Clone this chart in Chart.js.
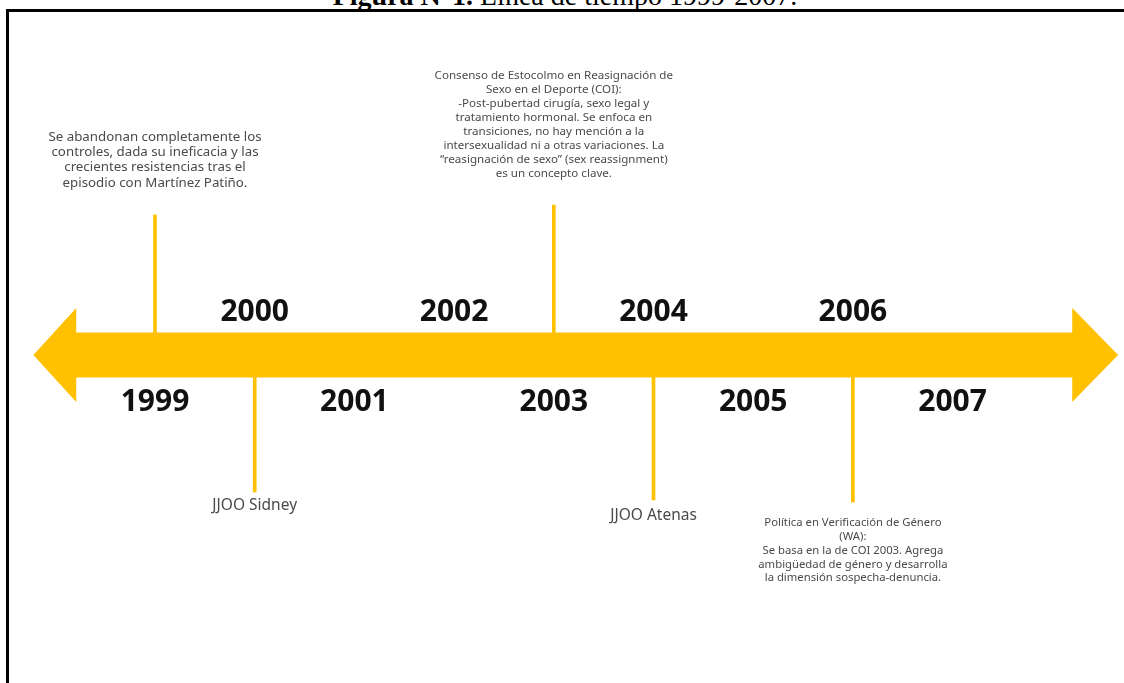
<!DOCTYPE html>
<html>
<head>
<meta charset="utf-8">
<script src="https://cdn.jsdelivr.net/npm/chart.js@4/dist/chart.umd.min.js"></script>
<style>
  html, body { margin: 0; padding: 0; background: #fff; overflow: hidden; }
  body { width: 1124px; height: 683px; position: relative; }
  #title {
    position: absolute; left: 0; top: -20px; width: 1130px; text-align: center;
    font-family: "Liberation Serif", "Times New Roman", serif; font-size: 28px; color: #000;
    white-space: nowrap;
  }
  #frame {
    position: absolute; left: 6px; top: 9px; width: 1200px; height: 800px;
    border-top: 3px solid #000; border-left: 3px solid #000;
  }
  #timeline { position: absolute; left: 0; top: 0; }
</style>
</head>
<body>
<div id="title"><b>Figura N°1.</b> Línea de tiempo 1999-2007.</div>
<div id="frame"></div>
<canvas id="timeline" width="1124" height="683"></canvas>
<script>
// años de la línea de tiempo
const years = [1999, 2000, 2001, 2002, 2003, 2004, 2005, 2006, 2007];

// hitos: año, hasta dónde llega la línea (+ arriba / - abajo) y texto
const eventYears = [1999, 2000, 2003, 2004, 2006];
const eventReach = [1.40, -1.37, 1.50, -1.45, -1.47];
const eventTexts = [
    ['Se abandonan completamente los',
     'controles, dada su ineficacia y las',
     'crecientes resistencias tras el',
     'episodio con Martínez Patiño.'],
    ['JJOO Sidney'],
    ['Consenso de Estocolmo en Reasignación de',
     'Sexo en el Deporte (COI):',
     '-Post-pubertad cirugía, sexo legal y',
     'tratamiento hormonal. Se enfoca en',
     'transiciones, no hay mención a la',
     'intersexualidad ni a otras variaciones. La',
     '“reasignación de sexo” (sex reassignment)',
     'es un concepto clave.'],
    ['JJOO Atenas'],
    ['Política en Verificación de Género',
     '(WA):',
     'Se basa en la de COI 2003. Agrega',
     'ambigüedad de género y desarrolla',
     'la dimensión sospecha-denuncia.']
];

// estilo de cada nota (tamaño de letra, interlineado, separación de la línea)
const noteFont = [
    {size: 13.3, lh: 15.4, gap: 32},
    {size: 15.5, lh: 18, gap: 14},
    {size: 11.6, lh: 14.1, gap: 31},
    {size: 15.5, lh: 18, gap: 16},
    {size: 11.3, lh: 13.8, gap: 21}
];

const gold = '#FFC000';
const bandHalf = 0.225;

// Flecha de fondo
const arrowPlugin = {
    id: 'arrow',
    beforeDatasetsDraw(chart) {
        const x = chart.scales.x, y = chart.scales.y, ctx = chart.ctx;
        const x0 = x.getPixelForValue(1997.78), x1 = x.getPixelForValue(1998.21);
        const x2 = x.getPixelForValue(2008.20), x3 = x.getPixelForValue(2008.66);
        const yc = y.getPixelForValue(0);
        const bt = y.getPixelForValue(bandHalf), bb = y.getPixelForValue(-bandHalf);
        const ht = y.getPixelForValue(0.47), hb = y.getPixelForValue(-0.47);
        ctx.save();
        ctx.fillStyle = gold;
        ctx.beginPath();
        ctx.moveTo(x0, yc);
        ctx.lineTo(x1, ht);
        ctx.lineTo(x1, bt);
        ctx.lineTo(x2, bt);
        ctx.lineTo(x2, ht);
        ctx.lineTo(x3, yc);
        ctx.lineTo(x2, hb);
        ctx.lineTo(x2, bb);
        ctx.lineTo(x1, bb);
        ctx.lineTo(x1, hb);
        ctx.closePath();
        ctx.fill();
        ctx.restore();
    }
};

// Años y textos
const labelsPlugin = {
    id: 'labels',
    afterDatasetsDraw(chart) {
        const x = chart.scales.x, y = chart.scales.y, ctx = chart.ctx;
        ctx.save();
        ctx.textAlign = 'center';
        ctx.textBaseline = 'middle';
        ctx.font = 'bold 30px "Noto Sans"';
        ctx.fillStyle = '#111';
        years.forEach(function(yr) {
            const up = (yr % 2 === 0);
            ctx.fillText(String(yr), x.getPixelForValue(yr), y.getPixelForValue(up ? 0.43 : -0.47));
        });

        ctx.fillStyle = '#4a4a4a';
        eventYears.forEach(function(yr, i) {
            const px = x.getPixelForValue(yr);
            const end = y.getPixelForValue(eventReach[i]);
            const f = noteFont[i];
            const lines = eventTexts[i];
            ctx.font = f.size + 'px "Noto Sans"';
            lines.forEach(function(t, k) {
                let py;
                if (eventReach[i] > 0) {
                    py = end - f.gap - (lines.length - 1 - k) * f.lh;
                } else {
                    py = end + f.gap + k * f.lh;
                }
                ctx.fillText(t, px, py);
            });
        });
        ctx.restore();
    }
};

const config = {
    type: 'bar',
    data: {
        datasets: [{
            label: 'hitos',
            data: eventYears.map(function(yr, i) {
                return {x: yr, y: [Math.sign(eventReach[i]) * bandHalf, eventReach[i]]};
            }),
            backgroundColor: gold,
            borderWidth: 0,
            barThickness: 3
        }]
    },
    options: {
        responsive: false,
        animation: false,
        layout: { padding: 0 },
        plugins: {
            legend: { display: false },
            tooltip: { enabled: false },
            title: { display: false }
        },
        scales: {
            x: {
                type: 'linear',
                display: false,
                offset: false,
                min: 1997.4453,
                max: 2008.7191
            },
            y: {
                type: 'linear',
                display: false,
                min: -3.28,
                max: 3.55
            }
        }
    },
    plugins: [arrowPlugin, labelsPlugin]
};

new Chart(document.getElementById('timeline').getContext('2d'), config);
</script>
</body>
</html>
